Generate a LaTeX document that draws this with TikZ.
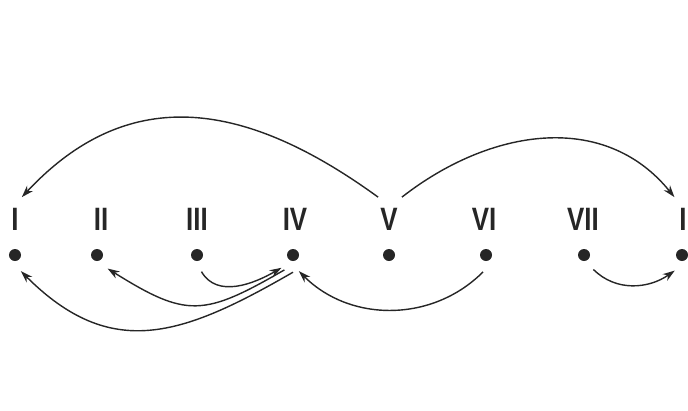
\documentclass[tikz,border=0pt]{standalone}
\usepackage{fontspec}
\newfontfamily\numfont[FakeStretch=0.8]{Liberation Sans}
\usepackage{tikz}
\usetikzlibrary{arrows.meta}
\definecolor{inkgray}{HTML}{262626}
\tikzset{
  station/.style={circle, fill=inkgray, inner sep=0pt, minimum size=3mm, outer sep=2.8mm},
  numeral/.style={font=\numfont\bfseries\fontsize{23}{26}\selectfont, text=inkgray, inner sep=2pt, outer sep=6pt},
  jump/.style={-{Stealth[length=3mm,width=2mm]}, line width=1pt, draw=inkgray}
}

\begin{document}
\begin{tikzpicture}[x=0.025cm,y=0.025cm]
  \useasboundingbox (0,0) rectangle (688,410);
  % stations
  \node[station] (nI) at (15,155) {};
  \node[station] (nII) at (97,155) {};
  \node[station] (nIII) at (197,155) {};
  \node[station] (nIV) at (293,155) {};
  \node[station] (nV) at (389,155) {};
  \node[station] (nVI) at (486,155) {};
  \node[station] (nVII) at (584,155) {};
  \node[station] (nIb) at (682,155) {};
  % numerals
  \node[numeral] (lI) at (15,190.5) {I};
  \node[numeral] (lII) at (101,190.5) {II};
  \node[numeral] (lIII) at (197,190.5) {III};
  \node[numeral] (lIV) at (295,190.5) {IV};
  \node[numeral] (lV) at (389,190.5) {V};
  \node[numeral] (lVI) at (484,190.5) {VI};
  \node[numeral] (lVII) at (583,190.5) {VII};
  \node[numeral] (lIb) at (683,190.5) {I};
  % upper arcs
  \draw[jump] (lV.116) to[out=144, in=47, looseness=1.15] (lI.73);
  \draw[jump] (lV.60) to[out=38, in=129, looseness=1.05] (lIb.111);
  % lower arcs
  \draw[jump] (nIII.-75) to[out=-60, in=210] (nIV.228);
  \draw[jump] (nIV.240) to[out=210, in=-32, looseness=1.35] (nII.-52);
  \draw[jump] (nIV.270) to[out=210, in=-45, looseness=1.2] (nI.-70);
  \draw[jump] (nVI.-100) to[out=225, in=-45] (nIV.-70);
  \draw[jump] (nVII.-57) to[out=-45, in=215] (nIb.-115);
\end{tikzpicture}
\end{document}
